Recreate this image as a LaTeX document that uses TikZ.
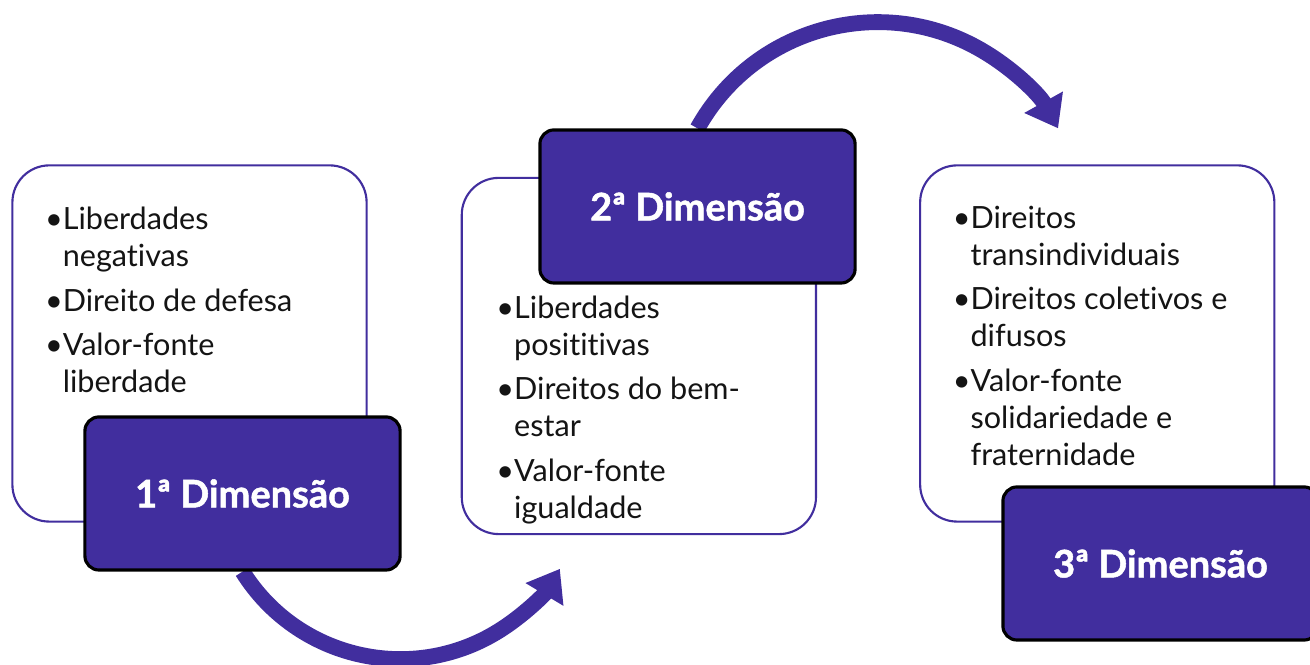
\documentclass[tikz,border=0pt]{standalone}
\usepackage{fontspec}
\setmainfont{Lato}[Ligatures=NoCommon, BoldFeatures={FakeBold=1.3}]
\usepackage{xcolor}
\usepackage{tikz}
\usetikzlibrary{arrows.meta, positioning, backgrounds}
\definecolor{DimPurple}{HTML}{412E9E}
\definecolor{DimInk}{HTML}{141414}

\begin{document}
\begin{tikzpicture}[x=0.01cm, y=0.01cm, every node/.style={font=\fontsize{8.7}{10.5}\selectfont}]
      \tikzset{
        card/.style={rectangle, rounded corners=10.5pt, draw=DimPurple, line width=0.6pt, fill=white, minimum width=3.54cm, minimum height=3.56cm},
        tag/.style={rectangle, rounded corners=4pt, draw=black, line width=0.9pt, fill=DimPurple, text=white, minimum width=3.15cm, minimum height=1.53cm, font=\fontsize{10.8}{12}\selectfont\bfseries},
        bullets/.style={inner sep=0pt, align=left, text=DimInk},
        flow/.style={line width=4.5pt, color=DimPurple, -{Triangle[width=12pt, length=8.5pt]}}
      }
      \useasboundingbox (0,0) rectangle (1310,665);

      \node[card] (card1) at (189.5,321.5) {};
      \node[card, right=0.93cm of card1, yshift=-0.125cm] (card2) {};
      \node[card, right=1.02cm of card2, yshift=0.125cm] (card3) {};

      \node[bullets, below right=0.42cm and 0.33cm of card1.north west] (txt1)
        {\textbullet Liberdades\\ \hphantom{\textbullet}negativas\\[2.2pt]
         \textbullet Direito de defesa\\[2.2pt]
         \textbullet Valor-fonte\\ \hphantom{\textbullet}liberdade};
      \node[bullets, below right=1.18cm and 0.35cm of card2.north west] (txt2)
        {\textbullet Liberdades\\ \hphantom{\textbullet}posititivas\\[2.2pt]
         \textbullet Direitos do bem-\\ \hphantom{\textbullet}estar\\[2.2pt]
         \textbullet Valor-fonte\\ \hphantom{\textbullet}igualdade};
      \node[bullets, below right=0.41cm and 0.33cm of card3.north west] (txt3)
        {\textbullet Direitos\\ \hphantom{\textbullet}transindividuais\\[2.2pt]
         \textbullet Direitos coletivos e\\ \hphantom{\textbullet}difusos\\[2.2pt]
         \textbullet Valor-fonte\\ \hphantom{\textbullet}solidariedade e\\ \hphantom{\textbullet}fraternidade};

      \node[tag] (dim1) at (242.5,171.5) {1ª Dimensão};
      \node[tag] (dim2) at (697.5,458.5) {2ª Dimensão};
      \node[tag] (dim3) at (1160.5,101.5) {3ª Dimensão};

      % arcs run under the tags
      \begin{scope}[on background layer]
        \draw[flow] (dim1.south) arc[start angle=212, end angle=329, radius=1.86cm];
        \draw[flow] (dim2.north) arc[start angle=151, end angle=29, radius=2.06cm];
      \end{scope}
    \end{tikzpicture}
\end{document}
